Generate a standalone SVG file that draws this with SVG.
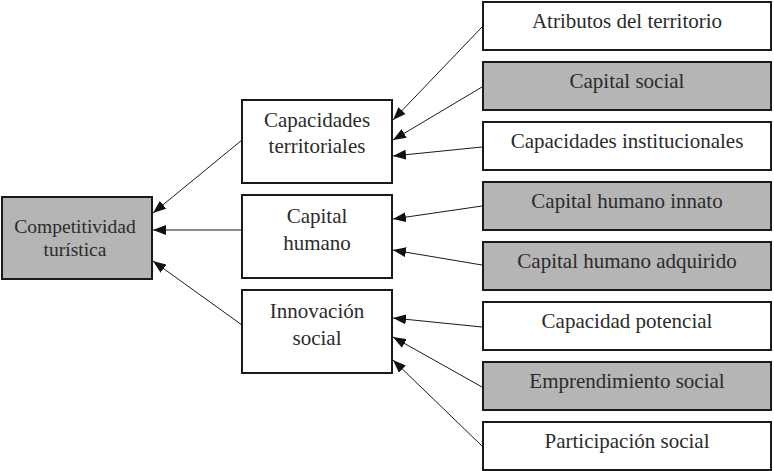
<svg xmlns="http://www.w3.org/2000/svg" width="774" height="471" viewBox="0 0 774 471">
<style>
.box{stroke:#1a1a1a;stroke-width:2;fill:#ffffff}
.grey{fill:#b5b5b5}
text{font-family:"Liberation Serif","Times New Roman",serif;font-size:21px;fill:#2b2b2b;text-anchor:middle}
.small{font-size:19.5px}
.conn line{stroke:#1a1a1a;stroke-width:1;marker-end:url(#ah)}
</style>
<defs>
<marker id="ah" markerUnits="userSpaceOnUse" markerWidth="14" markerHeight="10" refX="13" refY="5" orient="auto">
<path d="M0,0 L13,5 L0,10 z" fill="#111"/>
</marker>
</defs>
<g id="competitividad">
<rect class="box grey" x="2" y="197" width="150" height="82"/>
<text class="small" x="75" y="233">Competitividad</text>
<text class="small" x="75" y="256">turística</text>
</g>
<g id="capacidades-territoriales">
<rect class="box" x="242" y="100" width="150" height="83"/>
<text x="317" y="127">Capacidades</text>
<text x="317" y="153">territoriales</text>
</g>
<g id="capital-humano">
<rect class="box" x="242" y="195" width="150" height="83"/>
<text x="317" y="223">Capital</text>
<text x="317" y="250">humano</text>
</g>
<g id="innovacion-social">
<rect class="box" x="242" y="290" width="150" height="83"/>
<text x="317" y="318">Innovación</text>
<text x="317" y="345">social</text>
</g>
<g id="atributos">
<rect class="box" x="483" y="2" width="288" height="48"/>
<text x="627" y="28">Atributos del territorio</text>
</g>
<g id="capital-social">
<rect class="box grey" x="483" y="62" width="288" height="48"/>
<text x="627" y="88">Capital social</text>
</g>
<g id="capacidades-institucionales">
<rect class="box" x="483" y="122" width="288" height="48"/>
<text x="627" y="148">Capacidades institucionales</text>
</g>
<g id="capital-humano-innato">
<rect class="box grey" x="483" y="182" width="288" height="48"/>
<text x="627" y="208">Capital humano innato</text>
</g>
<g id="capital-humano-adquirido">
<rect class="box grey" x="483" y="242" width="288" height="48"/>
<text x="627" y="268">Capital humano adquirido</text>
</g>
<g id="capacidad-potencial">
<rect class="box" x="483" y="302" width="288" height="48"/>
<text x="627" y="328">Capacidad potencial</text>
</g>
<g id="emprendimiento-social">
<rect class="box grey" x="483" y="362" width="288" height="48"/>
<text x="627" y="388">Emprendimiento social</text>
</g>
<g id="participacion-social">
<rect class="box" x="483" y="422" width="288" height="48"/>
<text x="627" y="448">Participación social</text>
</g>
<g class="conn" id="connectors">
<line x1="482" y1="27" x2="393" y2="120"/>
<line x1="482" y1="87" x2="393" y2="140"/>
<line x1="482" y1="147" x2="393" y2="156"/>
<line x1="482" y1="206" x2="393" y2="219"/>
<line x1="482" y1="265" x2="393" y2="250"/>
<line x1="482" y1="327" x2="393" y2="318"/>
<line x1="482" y1="387" x2="393" y2="337"/>
<line x1="482" y1="446" x2="393" y2="360"/>
<line x1="242" y1="140" x2="153" y2="213"/>
<line x1="242" y1="230" x2="153" y2="230"/>
<line x1="242" y1="325" x2="153" y2="261"/>
</g>
</svg>
